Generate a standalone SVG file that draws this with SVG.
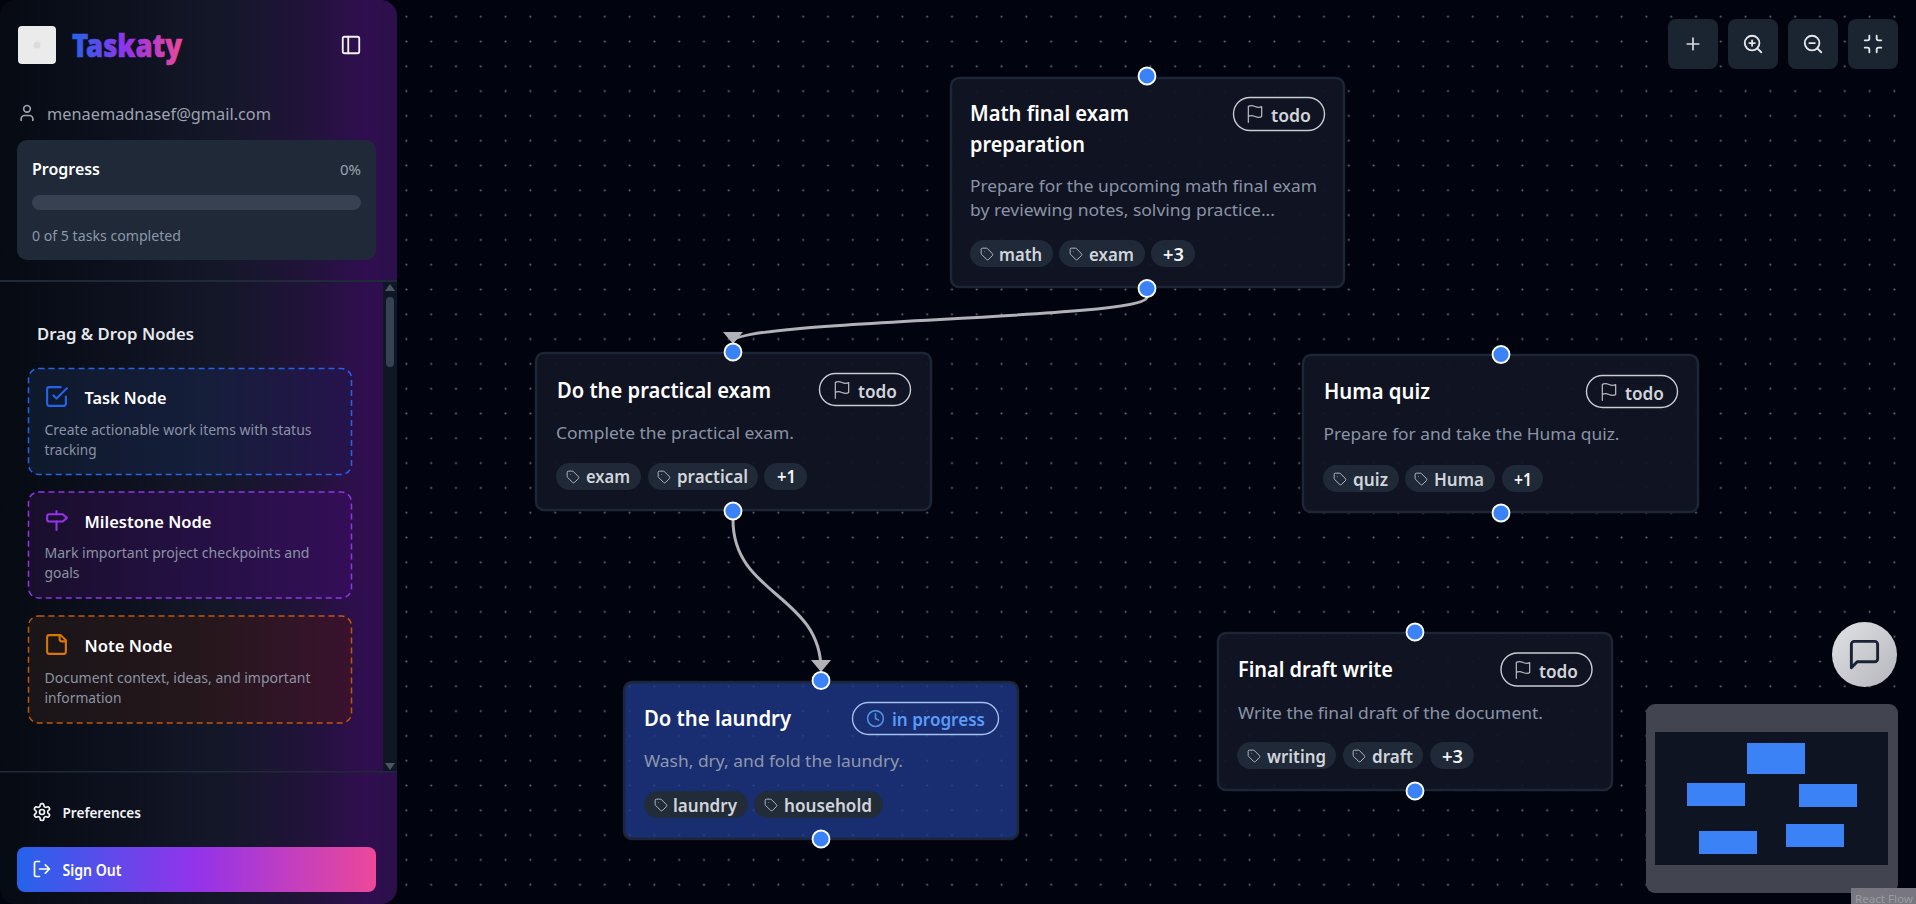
<svg xmlns="http://www.w3.org/2000/svg" width="1916" height="904" viewBox="0 0 1916 904">
<style>
text{font-family:"Noto Sans","Open Sans",sans-serif}
.title{font-size:21px;font-weight:600;fill:#fff}
.desc{font-size:16.500px;fill:#8a94a6}
.tagt{font-size:17px;font-weight:600;fill:#d1d5db}
.more{font-size:17px;font-weight:600;fill:#f3f4f6}
.stat{font-size:18px;font-weight:600;fill:#d1d5db}
.node{fill:#111523;fill-opacity:.92;stroke:#1c2636;stroke-width:2.500}
.pill{fill:#1f2937}
.badge{fill:none;stroke:#c9ccd2;stroke-width:1.400}
.h{fill:#3b82f6;stroke:#fff;stroke-width:1.800}
.edge{fill:none;stroke:#b1b1b7;stroke-width:3;marker-end:url(#arrow)}
.ic{fill:none;stroke:currentColor;stroke-width:2;stroke-linecap:round;stroke-linejoin:round}
.ctl{fill:#1b2431}
.cardT{font-size:16.500px;font-weight:600;fill:#fff}
.cardD{font-size:14.500px;fill:#8b93a3}
.mm{fill:#3b82f6}
</style>
<defs>
<pattern id="dots" patternUnits="userSpaceOnUse" x="-2.800" y="4.300" width="24.800" height="24.800"><circle cx="12.400" cy="12.400" r="1" fill="#6b7280"/></pattern>
<linearGradient id="side" x1="0" y1="0" x2="1" y2="0"><stop offset="0" stop-color="#060a12"/><stop offset=".55" stop-color="#131728"/><stop offset=".77" stop-color="#211339"/><stop offset=".92" stop-color="#300e50"/><stop offset="1" stop-color="#2c0f4a"/></linearGradient>
<linearGradient id="brand" gradientUnits="userSpaceOnUse" x1="72" y1="0" x2="182" y2="0"><stop offset="0" stop-color="#2563eb"/><stop offset=".5" stop-color="#9333ea"/><stop offset="1" stop-color="#ec4899"/></linearGradient>
<linearGradient id="sign" x1="0" y1="0" x2="1" y2="0"><stop offset="0" stop-color="#2563eb"/><stop offset=".5" stop-color="#9333ea"/><stop offset="1" stop-color="#ec4899"/></linearGradient>
<linearGradient id="gT" x1="0" y1="0" x2="1" y2="0"><stop offset="0" stop-color="#0f192c"/><stop offset=".55" stop-color="#151e3a"/><stop offset="1" stop-color="#26134c"/></linearGradient>
<linearGradient id="gM" x1="0" y1="0" x2="1" y2="0"><stop offset="0" stop-color="#190f2c"/><stop offset=".55" stop-color="#251045"/><stop offset="1" stop-color="#340e58"/></linearGradient>
<linearGradient id="gN" x1="0" y1="0" x2="1" y2="0"><stop offset="0" stop-color="#1a1518"/><stop offset=".55" stop-color="#25171c"/><stop offset="1" stop-color="#3a122e"/></linearGradient>
<linearGradient id="chat" x1="0" y1="0" x2="1" y2="1"><stop offset="0" stop-color="#e0e2e6"/><stop offset="1" stop-color="#b4b6bb"/></linearGradient>
<marker id="arrow" markerUnits="userSpaceOnUse" markerWidth="20" markerHeight="22" refX="10" refY="10" orient="auto"><path d="M0 0L12 10L0 20Z" fill="#b1b1b7"/></marker>
<symbol id="i-user" viewBox="0 0 24 24"><path class="ic" d="M19 21v-2a4 4 0 0 0-4-4H9a4 4 0 0 0-4 4v2"/><circle class="ic" cx="12" cy="7" r="4"/></symbol>
<symbol id="i-panel" viewBox="0 0 24 24"><rect class="ic" x="3" y="3" width="18" height="18" rx="2"/><path class="ic" d="M9 3v18"/></symbol>
<symbol id="i-check" viewBox="0 0 24 24"><path class="ic" d="M9 11l3 3L22 4"/><path class="ic" d="M21 12v7a2 2 0 0 1-2 2H5a2 2 0 0 1-2-2V5a2 2 0 0 1 2-2h11"/></symbol>
<symbol id="i-mile" viewBox="0 0 24 24"><path class="ic" d="M18 6H5a2 2 0 0 0-2 2v3a2 2 0 0 0 2 2h13l4-3.500L18 6Z"/><path class="ic" d="M12 13v8M12 3v3"/></symbol>
<symbol id="i-note" viewBox="0 0 24 24"><path class="ic" d="M16 3H5a2 2 0 0 0-2 2v14a2 2 0 0 0 2 2h14a2 2 0 0 0 2-2V8Z"/><path class="ic" d="M15 3v4a2 2 0 0 0 2 2h4"/></symbol>
<symbol id="i-gear" viewBox="0 0 24 24"><path class="ic" d="M12.220 2h-.44a2 2 0 0 0-2 2v.18a2 2 0 0 1-1 1.730l-.43.25a2 2 0 0 1-2 0l-.15-.08a2 2 0 0 0-2.730.73l-.22.38a2 2 0 0 0 .73 2.730l.15.1a2 2 0 0 1 1 1.720v.51a2 2 0 0 1-1 1.740l-.15.09a2 2 0 0 0-.73 2.730l.22.38a2 2 0 0 0 2.730.73l.15-.08a2 2 0 0 1 2 0l.43.25a2 2 0 0 1 1 1.730V20a2 2 0 0 0 2 2h.44a2 2 0 0 0 2-2v-.18a2 2 0 0 1 1-1.730l.43-.25a2 2 0 0 1 2 0l.15.08a2 2 0 0 0 2.730-.73l.22-.39a2 2 0 0 0-.73-2.730l-.15-.08a2 2 0 0 1-1-1.740v-.5a2 2 0 0 1 1-1.740l.15-.09a2 2 0 0 0 .73-2.730l-.22-.38a2 2 0 0 0-2.730-.73l-.15.08a2 2 0 0 1-2 0l-.43-.25a2 2 0 0 1-1-1.730V4a2 2 0 0 0-2-2z"/><circle class="ic" cx="12" cy="12" r="3"/></symbol>
<symbol id="i-out" viewBox="0 0 24 24"><path class="ic" d="M9 21H5a2 2 0 0 1-2-2V5a2 2 0 0 1 2-2h4M16 17l5-5-5-5M21 12H9"/></symbol>
<symbol id="i-flag" viewBox="0 0 24 24"><path class="ic" style="stroke-width:1.500" d="M4 15s1-1 4-1 5 2 8 2 4-1 4-1V3s-1 1-4 1-5-2-8-2-4 1-4 1zM4 22v-7"/></symbol>
<symbol id="i-clock" viewBox="0 0 24 24"><circle class="ic" cx="12" cy="12" r="10"/><path class="ic" d="M12 6v6l4 2"/></symbol>
<symbol id="i-tag" viewBox="0 0 24 24"><path class="ic" style="stroke-width:1.500" d="M12.586 2.586A2 2 0 0 0 11.172 2H4a2 2 0 0 0-2 2v7.172a2 2 0 0 0 .586 1.414l8.704 8.704a2.426 2.426 0 0 0 3.420 0l6.580-6.580a2.426 2.426 0 0 0 0-3.420z"/><circle cx="7.500" cy="7.500" r=".8" fill="currentColor"/></symbol>
<symbol id="i-msg" viewBox="0 0 24 24"><path class="ic" d="M21 15a2 2 0 0 1-2 2H7l-4 4V5a2 2 0 0 1 2-2h14a2 2 0 0 1 2 2z"/></symbol>
<symbol id="i-plus" viewBox="0 0 24 24"><path class="ic" d="M5 12h14M12 5v14"/></symbol>
<symbol id="i-zin" viewBox="0 0 24 24"><circle class="ic" cx="11" cy="11" r="8"/><path class="ic" d="M21 21l-4.300-4.300M11 8v6M8 11h6"/></symbol>
<symbol id="i-zout" viewBox="0 0 24 24"><circle class="ic" cx="11" cy="11" r="8"/><path class="ic" d="M21 21l-4.300-4.300M8 11h6"/></symbol>
<symbol id="i-min" viewBox="0 0 24 24"><path class="ic" d="M8 3v3a2 2 0 0 1-2 2H3M21 8h-3a2 2 0 0 1-2-2V3M3 16h3a2 2 0 0 1 2 2v3M16 21v-3a2 2 0 0 1 2-2h3"/></symbol>
</defs>

<rect width="1916" height="904" fill="#01030f"/>
<rect width="1916" height="904" fill="url(#dots)"/>

<g id="connectors">
<path class="edge" d="M1147 297C1147 319.500 733 319.500 733 342"/>
<path class="edge" d="M733 520C733 595 821 595 821 670"/>
</g>

<g id="node-math">
<rect class="node" x="951" y="78" width="393" height="209" rx="8"/>
<text class="title" x="970" y="121" textLength="159" lengthAdjust="spacingAndGlyphs">Math final exam</text>
<text class="title" x="970" y="152" textLength="115" lengthAdjust="spacingAndGlyphs">preparation</text>
<rect class="badge" x="1233.500" y="97.500" width="91" height="33" rx="16.500"/>
<use href="#i-flag" x="1245" y="104" width="20" height="20" color="#b5b8be"/>
<text class="stat" x="1271" y="122" textLength="40" lengthAdjust="spacingAndGlyphs">todo</text>
<text class="desc" x="970" y="192" textLength="347" lengthAdjust="spacingAndGlyphs">Prepare for the upcoming math final exam</text>
<text class="desc" x="970" y="216" textLength="305" lengthAdjust="spacingAndGlyphs">by reviewing notes, solving practice...</text>
<rect class="pill" x="970" y="240" width="83" height="27" rx="13.500"/>
<use href="#i-tag" x="980" y="247" width="14" height="14" color="#c4c8cf"/>
<text class="tagt" x="999" y="261" textLength="43" lengthAdjust="spacingAndGlyphs">math</text>
<rect class="pill" x="1059" y="240" width="86" height="27" rx="13.500"/>
<use href="#i-tag" x="1069" y="247" width="14" height="14" color="#c4c8cf"/>
<text class="tagt" x="1089" y="261" textLength="45" lengthAdjust="spacingAndGlyphs">exam</text>
<rect class="pill" x="1151" y="240" width="44" height="27" rx="13.500"/>
<text class="more" x="1163" y="261" textLength="21" lengthAdjust="spacingAndGlyphs">+3</text>
<circle class="h" cx="1147" cy="76" r="8.500"/><circle class="h" cx="1147" cy="288.500" r="8.500"/>
</g>

<g id="node-practical">
<rect class="node" x="536" y="353" width="395" height="157" rx="8"/>
<text class="title" x="557" y="398" textLength="214" lengthAdjust="spacingAndGlyphs">Do the practical exam</text>
<rect class="badge" x="819.500" y="373.500" width="91" height="32" rx="16"/>
<use href="#i-flag" x="832" y="380" width="20" height="20" color="#b5b8be"/>
<text class="stat" x="858" y="398" textLength="39" lengthAdjust="spacingAndGlyphs">todo</text>
<text class="desc" x="556" y="439" textLength="238" lengthAdjust="spacingAndGlyphs">Complete the practical exam.</text>
<rect class="pill" x="556" y="463" width="85" height="27" rx="13.500"/>
<use href="#i-tag" x="566" y="470" width="14" height="14" color="#c4c8cf"/>
<text class="tagt" x="586" y="483" textLength="44" lengthAdjust="spacingAndGlyphs">exam</text>
<rect class="pill" x="648" y="463" width="110" height="27" rx="13.500"/>
<use href="#i-tag" x="657" y="470" width="14" height="14" color="#c4c8cf"/>
<text class="tagt" x="677" y="483" textLength="71" lengthAdjust="spacingAndGlyphs">practical</text>
<rect class="pill" x="764" y="463" width="43" height="27" rx="13.500"/>
<text class="more" x="777" y="483" textLength="19" lengthAdjust="spacingAndGlyphs">+1</text>
<circle class="h" cx="733" cy="352" r="8.500"/><circle class="h" cx="733" cy="511" r="8.500"/>
</g>

<g id="node-huma">
<rect class="node" x="1303" y="355" width="395" height="157" rx="8"/>
<text class="title" x="1324" y="399" textLength="106" lengthAdjust="spacingAndGlyphs">Huma quiz</text>
<rect class="badge" x="1586.500" y="375.500" width="91" height="32" rx="16"/>
<use href="#i-flag" x="1599" y="382" width="20" height="20" color="#b5b8be"/>
<text class="stat" x="1625" y="400" textLength="39" lengthAdjust="spacingAndGlyphs">todo</text>
<text class="desc" x="1323.500" y="440" textLength="296" lengthAdjust="spacingAndGlyphs">Prepare for and take the Huma quiz.</text>
<rect class="pill" x="1323" y="465" width="76" height="27" rx="13.500"/>
<use href="#i-tag" x="1333" y="472" width="14" height="14" color="#c4c8cf"/>
<text class="tagt" x="1353" y="486" textLength="35" lengthAdjust="spacingAndGlyphs">quiz</text>
<rect class="pill" x="1405" y="465" width="90" height="27" rx="13.500"/>
<use href="#i-tag" x="1414" y="472" width="14" height="14" color="#c4c8cf"/>
<text class="tagt" x="1434" y="486" textLength="50" lengthAdjust="spacingAndGlyphs">Huma</text>
<rect class="pill" x="1502" y="465" width="41" height="27" rx="13.500"/>
<text class="more" x="1514" y="486" textLength="18" lengthAdjust="spacingAndGlyphs">+1</text>
<circle class="h" cx="1501" cy="354.500" r="8.500"/><circle class="h" cx="1501" cy="513" r="8.500"/>
</g>

<g id="node-laundry">
<rect class="node" style="fill:#1e3a8a;fill-opacity:.8" x="624" y="682" width="394" height="157" rx="8"/>
<text class="title" x="644" y="726" textLength="147" lengthAdjust="spacingAndGlyphs">Do the laundry</text>
<rect class="badge" style="stroke:#a3bfee" x="852.500" y="702.500" width="146" height="32" rx="16"/>
<use href="#i-clock" x="866" y="709" width="19" height="19" color="#4f8fe8"/>
<text class="stat" style="fill:#5b9bf6" x="892" y="726" textLength="93" lengthAdjust="spacingAndGlyphs">in progress</text>
<text class="desc" style="fill:#8f97ab" x="644" y="767" textLength="259" lengthAdjust="spacingAndGlyphs">Wash, dry, and fold the laundry.</text>
<rect class="pill" style="fill:#222b38" x="644" y="791" width="104" height="27" rx="13.500"/>
<use href="#i-tag" x="654" y="798" width="14" height="14" color="#c4c8cf"/>
<text class="tagt" x="673" y="812" textLength="64" lengthAdjust="spacingAndGlyphs">laundry</text>
<rect class="pill" style="fill:#222b38" x="754" y="791" width="129" height="27" rx="13.500"/>
<use href="#i-tag" x="764" y="798" width="14" height="14" color="#c4c8cf"/>
<text class="tagt" x="784" y="812" textLength="88" lengthAdjust="spacingAndGlyphs">household</text>
<circle class="h" cx="821" cy="680.500" r="8.500"/><circle class="h" cx="821" cy="839" r="8.500"/>
</g>

<g id="node-final">
<rect class="node" x="1218" y="633" width="394" height="157" rx="8"/>
<text class="title" x="1238" y="677" textLength="155" lengthAdjust="spacingAndGlyphs">Final draft write</text>
<rect class="badge" x="1501" y="653" width="91" height="33" rx="16.500"/>
<use href="#i-flag" x="1513" y="660" width="20" height="20" color="#b5b8be"/>
<text class="stat" x="1539" y="678" textLength="39" lengthAdjust="spacingAndGlyphs">todo</text>
<text class="desc" x="1238" y="719" textLength="305" lengthAdjust="spacingAndGlyphs">Write the final draft of the document.</text>
<rect class="pill" x="1237" y="742" width="99" height="27" rx="13.500"/>
<use href="#i-tag" x="1247" y="749" width="14" height="14" color="#c4c8cf"/>
<text class="tagt" x="1267" y="763" textLength="59" lengthAdjust="spacingAndGlyphs">writing</text>
<rect class="pill" x="1343" y="742" width="80" height="27" rx="13.500"/>
<use href="#i-tag" x="1352" y="749" width="14" height="14" color="#c4c8cf"/>
<text class="tagt" x="1372" y="763" textLength="41" lengthAdjust="spacingAndGlyphs">draft</text>
<rect class="pill" x="1430" y="742" width="44" height="27" rx="13.500"/>
<text class="more" x="1442" y="763" textLength="21" lengthAdjust="spacingAndGlyphs">+3</text>
<circle class="h" cx="1415" cy="632" r="8.500"/><circle class="h" cx="1415" cy="791" r="8.500"/>
</g>

<g id="controls">
<rect class="ctl" x="1668" y="19" width="50" height="50" rx="8"/><use href="#i-plus" x="1683" y="34" width="20" height="20" color="#d9dce1"/>
<rect class="ctl" x="1728" y="19" width="50" height="50" rx="8"/><use href="#i-zin" x="1742" y="33" width="22" height="22" color="#e5e7eb"/>
<rect class="ctl" x="1788" y="19" width="50" height="50" rx="8"/><use href="#i-zout" x="1802" y="33" width="22" height="22" color="#e5e7eb"/>
<rect class="ctl" x="1848" y="19" width="50" height="50" rx="8"/><use href="#i-min" x="1862" y="33" width="22" height="22" color="#e5e7eb"/>
</g>

<g id="chat-button">
<circle cx="1864.500" cy="654.500" r="32.500" fill="url(#chat)"/>
<use href="#i-msg" x="1847" y="637" width="35" height="35" color="#1a2336"/>
</g>

<g id="minimap">
<rect x="1646" y="704" width="252" height="189" rx="9" fill="#42454f"/>
<rect x="1655" y="732" width="233" height="133" fill="#0e1421"/>
<rect class="mm" x="1747" y="743" width="58" height="31"/>
<rect class="mm" x="1687" y="783" width="58" height="23"/>
<rect class="mm" x="1799" y="784" width="58" height="23"/>
<rect class="mm" x="1699" y="831" width="58" height="23"/>
<rect class="mm" x="1786" y="824" width="58" height="23"/>
<rect x="1851" y="888" width="65" height="16" fill="#77787f"/>
<text x="1855" y="903" font-size="11" fill="#9b9ca4" textLength="58" lengthAdjust="spacingAndGlyphs">React Flow</text>
</g>

<g id="sidebar">
<rect x="0" y="0" width="397" height="904" rx="16" fill="url(#side)"/>
<rect x="18" y="26" width="38" height="38" rx="4" fill="#ebebeb"/>
<circle cx="37" cy="45" r="3.500" fill="#dcdcdc"/>
<text x="72" y="57" font-size="31" font-weight="900" fill="url(#brand)" stroke="url(#brand)" stroke-width=".6" textLength="110" lengthAdjust="spacingAndGlyphs">Taskaty</text>
<use href="#i-panel" x="340" y="34" width="22" height="22" color="#f3f4f6"/>
<use href="#i-user" x="17" y="103" width="20" height="20" color="#9ca3af"/>
<text x="47" y="120" font-size="16.500" fill="#9ca3af" textLength="224" lengthAdjust="spacingAndGlyphs">menaemadnasef@gmail.com</text>
<rect x="17" y="140" width="359" height="120" rx="10" fill="#1f2937"/>
<text class="cardT" x="32" y="175" textLength="68" lengthAdjust="spacingAndGlyphs">Progress</text>
<text x="340" y="175" font-size="14.500" fill="#9ca3af" textLength="21" lengthAdjust="spacingAndGlyphs">0%</text>
<rect x="32" y="195" width="329" height="15" rx="7.500" fill="#374151"/>
<text x="32" y="241" font-size="14.500" fill="#8b98aa" textLength="149" lengthAdjust="spacingAndGlyphs">0 of 5 tasks completed</text>
<rect x="0" y="280" width="397" height="2" fill="#1f2937"/>
<rect x="383" y="282" width="14" height="489" fill="#0f1727"/>
<path d="M385 291L390 284L395 291Z" fill="#4b5563"/>
<rect x="386" y="297" width="8" height="70" rx="4" fill="#374151"/>
<path d="M385 763L395 763L390 770Z" fill="#4b5563"/>
<text x="37" y="340" font-size="16.500" font-weight="600" fill="#e5e7eb" textLength="157" lengthAdjust="spacingAndGlyphs">Drag &amp; Drop Nodes</text>

<g id="card-task">
<rect x="28.500" y="368.500" width="323" height="106" rx="10" fill="url(#gT)" stroke="#2563eb" stroke-width="1.500" stroke-dasharray="6 4"/>
<use href="#i-check" x="44" y="384" width="25" height="25" color="#2563eb"/>
<text class="cardT" x="84.500" y="404" textLength="82" lengthAdjust="spacingAndGlyphs">Task Node</text>
<text class="cardD" x="44.500" y="435" textLength="267" lengthAdjust="spacingAndGlyphs">Create actionable work items with status</text>
<text class="cardD" x="44.500" y="455" textLength="52" lengthAdjust="spacingAndGlyphs">tracking</text>
</g>
<g id="card-milestone">
<rect x="28.500" y="492" width="323" height="106" rx="10" fill="url(#gM)" stroke="#9333ea" stroke-width="1.500" stroke-dasharray="6 4"/>
<use href="#i-mile" x="44" y="508" width="25" height="25" color="#9333ea"/>
<text class="cardT" x="84.500" y="528" textLength="127" lengthAdjust="spacingAndGlyphs">Milestone Node</text>
<text class="cardD" x="44.500" y="558" textLength="265" lengthAdjust="spacingAndGlyphs">Mark important project checkpoints and</text>
<text class="cardD" x="44.500" y="578" textLength="35" lengthAdjust="spacingAndGlyphs">goals</text>
</g>
<g id="card-note">
<rect x="28.500" y="616" width="323" height="107" rx="10" fill="url(#gN)" stroke="#c2570c" stroke-width="1.500" stroke-dasharray="6 4"/>
<use href="#i-note" x="44" y="632" width="25" height="25" color="#d97706"/>
<text class="cardT" x="84.500" y="652" textLength="88" lengthAdjust="spacingAndGlyphs">Note Node</text>
<text class="cardD" x="44.500" y="683" textLength="266" lengthAdjust="spacingAndGlyphs">Document context, ideas, and important</text>
<text class="cardD" x="44.500" y="703" textLength="77" lengthAdjust="spacingAndGlyphs">information</text>
</g>
<rect x="0" y="771" width="397" height="1.500" fill="#1f2937"/>
<use href="#i-gear" x="32" y="802" width="20" height="20" color="#f3f4f6"/>
<text x="62.500" y="818" font-size="14.500" font-weight="600" fill="#f3f4f6" textLength="78.500" lengthAdjust="spacingAndGlyphs">Preferences</text>
<rect x="17" y="847" width="359" height="45" rx="8" fill="url(#sign)"/>
<use href="#i-out" x="32" y="859" width="20" height="20" color="#fff"/>
<text x="62.500" y="876" font-size="15.500" font-weight="600" fill="#fff" textLength="59" lengthAdjust="spacingAndGlyphs">Sign Out</text>
</g>
</svg>
